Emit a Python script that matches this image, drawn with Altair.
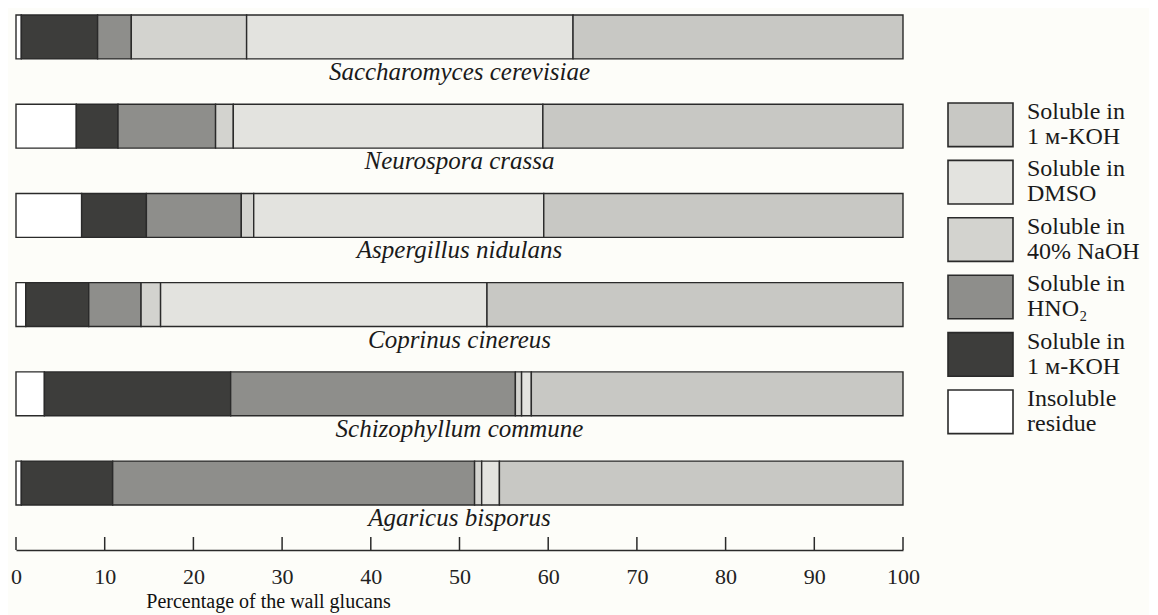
import altair as alt
import pandas as pd

# ---- data (percent of wall glucans) ----
species = ["Saccharomyces cerevisiae", "Neurospora crassa", "Aspergillus nidulans",
           "Coprinus cinereus", "Schizophyllum commune", "Agaricus bisporus"]

# fractions, left to right in each bar
insoluble = [0.6, 6.8, 7.4, 1.1, 3.2, 0.6]
koh_1m_first = [8.6, 4.7, 7.3, 7.1, 21.0, 10.3]
hno2 = [3.8, 11.0, 10.7, 5.9, 32.1, 40.8]
naoh_40 = [13.0, 2.0, 1.4, 2.2, 0.7, 0.8]
dmso = [36.8, 34.9, 32.7, 36.8, 1.1, 2.0]
koh_1m_last = [37.2, 40.6, 40.5, 46.9, 41.9, 45.5]

cat_keys = ["res", "koh", "hno2", "naoh", "dmso", "koh_alk"]
cat_colors = ["#ffffff", "#3d3d3b", "#8e8e8b", "#d3d3cf", "#e3e3df", "#c8c8c4"]

legend_keys = ["koh_alk", "dmso", "naoh", "hno2", "koh", "res"]
legend_labels = ["Soluble in\n1 ᴍ-KOH", "Soluble in\nDMSO", "Soluble in\n40% NaOH",
                 "Soluble in\nHNO₂", "Soluble in\n1 ᴍ-KOH", "Insoluble\nresidue"]

tick_values = [0, 10, 20, 30, 40, 50, 60, 70, 80, 90, 100]

# ---- build tables ----
series = [insoluble, koh_1m_first, hno2, naoh_40, dmso, koh_1m_last]
rows = []
for si, sp in enumerate(species):
    for ci, key in enumerate(cat_keys):
        rows.append({"species": sp, "cat": key, "ord": ci, "value": series[ci][si]})
bars_df = pd.DataFrame(rows)
labels_df = pd.DataFrame({"species": species})
ticks_df = pd.DataFrame({"t": tick_values})
legend_df = pd.DataFrame({"cat": legend_keys, "label": legend_labels,
                          "idx": list(range(len(legend_keys)))})

FONT = "Liberation Serif"
W, H = 887, 490
AXIS_OFF = 45

color_scale = alt.Scale(domain=cat_keys, range=cat_colors)
yband = alt.Scale(type="band", domain=species, paddingInner=0.508, paddingOuter=0)

bars = alt.Chart(bars_df).mark_bar(stroke="#2a2a2a", strokeWidth=1.4).encode(
    y=alt.Y("species:N", sort=species, scale=yband, axis=None),
    x=alt.X("value:Q", stack="zero",
            scale=alt.Scale(domain=[0, 100], nice=False, zero=True),
            axis=alt.Axis(values=tick_values, ticks=False, grid=False, domain=True,
                          domainColor="#2a2a2a", domainWidth=1.6, offset=AXIS_OFF,
                          labelFont=FONT, labelFontSize=22, labelColor="#222222",
                          labelPadding=16, labelFlush=False,
                          title="Percentage of the wall glucans",
                          titleFont=FONT, titleFontSize=20, titleFontWeight="normal",
                          titleColor="#111111", titleX=252, titleY=57,
                          titleAlign="center", titleBaseline="alphabetic")),
    color=alt.Color("cat:N", scale=color_scale, legend=None),
    order=alt.Order("ord:Q", sort="ascending"),
)

names = alt.Chart(labels_df).mark_text(
    font=FONT, fontSize=25, fontStyle="italic", color="#1a1a1a",
    baseline="middle", align="center", dy=35,
).encode(
    y=alt.Y("species:N", sort=species, scale=yband, axis=None, bandPosition=0.5),
    x=alt.value(W / 2),
    text="species:N",
)

ticks = alt.Chart(ticks_df).mark_rule(color="#2a2a2a", strokeWidth=1.5).encode(
    x=alt.X("t:Q", scale=alt.Scale(domain=[0, 100], nice=False)),
    y=alt.value(H + AXIS_OFF - 13),
    y2=alt.value(H + AXIS_OFF),
)

leg_scale = alt.Scale(domain=[0, 6], range=[88, 88 + 6 * 57.4], nice=False, zero=False)

leg_rect = alt.Chart(legend_df).mark_rect(stroke="#2a2a2a", strokeWidth=1.6).transform_calculate(
    idx2="datum.idx + 0.76"
).encode(
    x=alt.value(932), x2=alt.value(997),
    y=alt.Y("idx:Q", scale=leg_scale, axis=None),
    y2="idx2:Q",
    color=alt.Color("cat:N", scale=color_scale, legend=None),
)

leg_text = alt.Chart(legend_df).mark_text(
    font=FONT, fontSize=24, color="#1a1a1a", align="left", baseline="top",
    lineBreak="\n", lineHeight=25, dy=-3,
).encode(
    x=alt.value(1011),
    y=alt.Y("idx:Q", scale=leg_scale, axis=None),
    text="label:N",
)

chart = alt.layer(bars, names, ticks, leg_rect, leg_text).resolve_scale(
    y="independent"
).properties(
    width=W, height=H,
    autosize=alt.AutoSizeParams(type="none"),
    padding={"left": 8, "top": 7, "right": 246, "bottom": 110},
    background="#fdfdf9",
).configure_view(stroke=None)

chart.save("out.html", embed_options={"renderer": "svg", "actions": False})
